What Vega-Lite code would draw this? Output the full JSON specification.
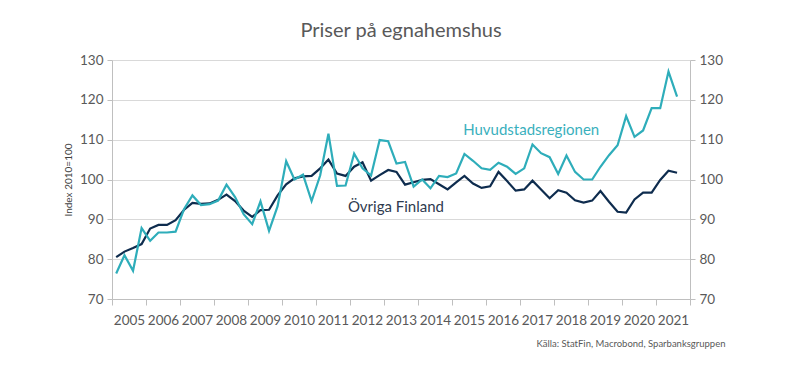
{
  "$schema": "https://vega.github.io/schema/vega-lite/v6.json",
  "autosize": "none",
  "width": 578,
  "height": 239,
  "padding": {"left": 112, "top": 60, "right": 110, "bottom": 76},
  "background": "white",
  "config": {
    "font": "Lato",
    "view": {"stroke": null},
    "axis": {"labelColor": "#595959", "titleColor": "#404040", "domainColor": "#bfbfbf", "tickColor": "#bfbfbf", "gridColor": "#d9d9d9", "labelFont": "Lato", "titleFont": "Lato"}
  },
  "title": {"text": "Priser på egnahemshus", "fontSize": 20, "fontWeight": "normal", "color": "#595959", "font": "Lato", "offset": 12, "anchor": "middle"},
  "datasets": {
    "prices": [
      {"date": "2005-02-15", "huv": 76.4, "ovr": 80.5},
      {"date": "2005-05-15", "huv": 81.0, "ovr": 81.9},
      {"date": "2005-08-15", "huv": 77.1, "ovr": 82.8},
      {"date": "2005-11-15", "huv": 87.8, "ovr": 83.8},
      {"date": "2006-02-15", "huv": 84.6, "ovr": 87.7},
      {"date": "2006-05-15", "huv": 86.7, "ovr": 88.6},
      {"date": "2006-08-15", "huv": 86.7, "ovr": 88.6},
      {"date": "2006-11-15", "huv": 86.9, "ovr": 89.8},
      {"date": "2007-02-15", "huv": 92.6, "ovr": 92.4},
      {"date": "2007-05-15", "huv": 96.0, "ovr": 94.1},
      {"date": "2007-08-15", "huv": 93.6, "ovr": 93.9},
      {"date": "2007-11-15", "huv": 93.8, "ovr": 94.0},
      {"date": "2008-02-15", "huv": 94.7, "ovr": 94.9},
      {"date": "2008-05-15", "huv": 98.7, "ovr": 96.2},
      {"date": "2008-08-15", "huv": 95.6, "ovr": 94.6},
      {"date": "2008-11-15", "huv": 91.3, "ovr": 92.2},
      {"date": "2009-02-15", "huv": 88.8, "ovr": 90.6},
      {"date": "2009-05-15", "huv": 94.5, "ovr": 92.3},
      {"date": "2009-08-15", "huv": 87.1, "ovr": 92.4},
      {"date": "2009-11-15", "huv": 93.3, "ovr": 96.0},
      {"date": "2010-02-15", "huv": 104.6, "ovr": 98.8},
      {"date": "2010-05-15", "huv": 100.0, "ovr": 100.3},
      {"date": "2010-08-15", "huv": 101.2, "ovr": 100.8},
      {"date": "2010-11-15", "huv": 94.6, "ovr": 100.9},
      {"date": "2011-02-15", "huv": 101.0, "ovr": 102.8},
      {"date": "2011-05-15", "huv": 111.5, "ovr": 105.0},
      {"date": "2011-08-15", "huv": 98.4, "ovr": 101.5},
      {"date": "2011-11-15", "huv": 98.5, "ovr": 100.9},
      {"date": "2012-02-15", "huv": 106.5, "ovr": 103.2},
      {"date": "2012-05-15", "huv": 102.8, "ovr": 104.3},
      {"date": "2012-08-15", "huv": 101.0, "ovr": 99.7},
      {"date": "2012-11-15", "huv": 109.9, "ovr": 101.1},
      {"date": "2013-02-15", "huv": 109.6, "ovr": 102.4},
      {"date": "2013-05-15", "huv": 104.0, "ovr": 101.9},
      {"date": "2013-08-15", "huv": 104.4, "ovr": 98.7},
      {"date": "2013-11-15", "huv": 98.2, "ovr": 99.3},
      {"date": "2014-02-15", "huv": 100.0, "ovr": 99.9},
      {"date": "2014-05-15", "huv": 97.8, "ovr": 100.1},
      {"date": "2014-08-15", "huv": 100.9, "ovr": 98.8},
      {"date": "2014-11-15", "huv": 100.6, "ovr": 97.5},
      {"date": "2015-02-15", "huv": 101.5, "ovr": 99.3},
      {"date": "2015-05-15", "huv": 106.4, "ovr": 100.9},
      {"date": "2015-08-15", "huv": 104.7, "ovr": 99.0},
      {"date": "2015-11-15", "huv": 102.8, "ovr": 97.9},
      {"date": "2016-02-15", "huv": 102.4, "ovr": 98.3},
      {"date": "2016-05-15", "huv": 104.2, "ovr": 101.9},
      {"date": "2016-08-15", "huv": 103.2, "ovr": 99.6},
      {"date": "2016-11-15", "huv": 101.4, "ovr": 97.2},
      {"date": "2017-02-15", "huv": 102.8, "ovr": 97.5},
      {"date": "2017-05-15", "huv": 108.8, "ovr": 99.7},
      {"date": "2017-08-15", "huv": 106.6, "ovr": 97.5},
      {"date": "2017-11-15", "huv": 105.6, "ovr": 95.3},
      {"date": "2018-02-15", "huv": 101.4, "ovr": 97.3},
      {"date": "2018-05-15", "huv": 106.0, "ovr": 96.7},
      {"date": "2018-08-15", "huv": 101.9, "ovr": 94.8},
      {"date": "2018-11-15", "huv": 100.0, "ovr": 94.2},
      {"date": "2019-02-15", "huv": 100.0, "ovr": 94.7},
      {"date": "2019-05-15", "huv": 103.2, "ovr": 97.1},
      {"date": "2019-08-15", "huv": 106.1, "ovr": 94.4},
      {"date": "2019-11-15", "huv": 108.6, "ovr": 91.9},
      {"date": "2020-02-15", "huv": 115.9, "ovr": 91.7},
      {"date": "2020-05-15", "huv": 110.7, "ovr": 95.0},
      {"date": "2020-08-15", "huv": 112.3, "ovr": 96.7},
      {"date": "2020-11-15", "huv": 117.9, "ovr": 96.7},
      {"date": "2021-02-15", "huv": 117.9, "ovr": 99.9},
      {"date": "2021-05-15", "huv": 127.1, "ovr": 102.2},
      {"date": "2021-08-15", "huv": 120.8, "ovr": 101.7}
    ],
    "labels": [
      {"date": "2015-05-01", "value": 112.4, "series": "huv", "label": "Huvudstadsregionen"},
      {"date": "2011-12-10", "value": 93.1, "series": "ovr", "label": "Övriga Finland"}
    ]
  },
  "layer": [
    {
      "data": {"name": "prices"},
      "transform": [{"fold": ["ovr", "huv"], "as": ["series", "value"]}],
      "mark": {"type": "line", "strokeWidth": 2.2},
      "encoding": {
        "x": {
          "field": "date", "type": "temporal",
          "scale": {"domain": [{"year": 2005, "month": 1, "date": 1}, {"year": 2022, "month": 1, "date": 1}]},
          "axis": {
            "title": "Källa: StatFin, Macrobond, Sparbanksgruppen",
            "titleFontSize": 9.5, "titleFontWeight": "normal", "titleColor": "#595959",
            "titleAnchor": "end", "titleAlign": "right", "titleX": 613, "titleY": 47, "titleBaseline": "alphabetic",
            "tickCount": {"interval": "year", "step": 1},
            "labelExpr": "year(datum.value) >= 2022 ? '' : timeFormat(datum.value, '%Y')",
            "labelOffset": 17, "labelAlign": "center", "labelFlush": false, "labelOverlap": false,
            "labelFontSize": 13.5, "labelPadding": 8, "tickSize": 6, "grid": false, "domain": true
          }
        },
        "y": {
          "field": "value", "type": "quantitative",
          "scale": {"domain": [70, 130], "nice": false, "zero": false},
          "axis": {
            "title": "Index 2010=100", "titleFontSize": 10, "titleFontWeight": "normal", "titlePadding": 6,
            "values": [70, 80, 90, 100, 110, 120, 130],
            "labelFontSize": 13.5, "labelPadding": 4, "tickSize": 5, "grid": true, "domain": true
          }
        },
        "color": {
          "field": "series", "type": "nominal",
          "scale": {"domain": ["huv", "ovr"], "range": ["#2eadba", "#0e2c4e"]},
          "legend": null
        }
      }
    },
    {
      "data": {"name": "labels"},
      "mark": {"type": "text", "align": "left", "baseline": "middle", "fontSize": 15, "font": "Lato"},
      "encoding": {
        "x": {"field": "date", "type": "temporal"},
        "y": {
          "field": "value", "type": "quantitative",
          "axis": {
            "orient": "right", "title": null,
            "values": [70, 80, 90, 100, 110, 120, 130],
            "labelFontSize": 13.5, "labelPadding": 4, "tickSize": 5, "grid": false, "domain": true
          }
        },
        "text": {"field": "label"},
        "color": {
          "field": "series", "type": "nominal",
          "scale": {"domain": ["huv", "ovr"], "range": ["#3ab0bd", "#2f3b4f"]},
          "legend": null
        }
      }
    }
  ],
  "resolve": {"axis": {"y": "independent"}, "scale": {"color": "independent"}}
}
